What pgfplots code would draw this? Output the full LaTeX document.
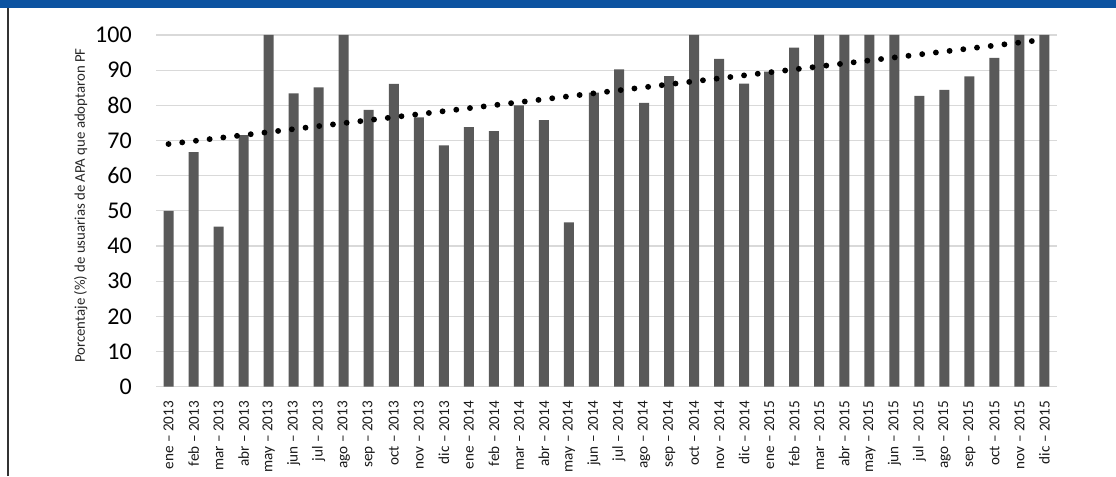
\documentclass[border=0pt]{standalone}
\usepackage{fontspec}
\setmainfont{Carlito}
\usepackage{pgfplots}
\pgfplotsset{compat=1.18}
\definecolor{headblue}{RGB}{12,83,161}
\definecolor{barcol}{RGB}{89,89,89}
\definecolor{gridcol}{RGB}{217,217,217}
\begin{document}
\begin{tikzpicture}
\useasboundingbox (0,0) rectangle (837pt,357pt);
\fill[headblue] (0,350.8pt) rectangle (837pt,357pt);
\draw[line width=1.1pt, black!80] (6pt,0) -- (6pt,350.8pt);
\begin{axis}[
  at={(117pt,66.98pt)}, anchor=south west,
  scale only axis, width=675.75pt, height=263.78pt,
  xmin=-0.5, xmax=35.5, ymin=0, ymax=100,
  ytick={0,10,...,100},
  xtick={0,...,35},
  xticklabels={ene – 2013,feb – 2013,mar – 2013,abr – 2013,may – 2013,jun – 2013,jul – 2013,ago – 2013,sep – 2013,oct – 2013,nov – 2013,dic – 2013,
               ene – 2014,feb – 2014,mar – 2014,abr – 2014,may – 2014,jun – 2014,jul – 2014,ago – 2014,sep – 2014,oct – 2014,nov – 2014,dic – 2014,
               ene – 2015,feb – 2015,mar – 2015,abr – 2015,may – 2015,jun – 2015,jul – 2015,ago – 2015,sep – 2015,oct – 2015,nov – 2015,dic – 2015},
  axis line style={draw=none},
  major tick length=0pt,
  ymajorgrids, grid style={color=gridcol, line width=0.8pt},
  /pgf/number format/assume math mode=true,
  y tick label style={font=\fontsize{18}{18}\selectfont, inner sep=0pt, anchor=east, xshift=-18pt, text=black},
  x tick label style={font=\fontsize{11.4}{12}\selectfont, rotate=90, anchor=east, inner sep=0pt, xshift=-10.5pt, text=black!90},
  ylabel={Porcentaje (\%) de usuarias de APA que adoptaron PF},
  ylabel style={font=\fontsize{11.1}{12}\selectfont, at={(axis description cs:-0.0836,0.515)}, anchor=center, text=black!85},
  clip=false,
]
\addplot[ybar, bar width=7.5pt, fill=barcol, draw=none] coordinates {
(0,50.0) (1,66.7) (2,45.5) (3,71.5) (4,100) (5,83.4) (6,85.1) (7,100) (8,78.7) (9,86.1) (10,76.6) (11,68.6)
(12,73.8) (13,72.7) (14,80.0) (15,75.8) (16,46.7) (17,83.6) (18,90.2) (19,80.7) (20,88.3) (21,100) (22,93.2) (23,86.2)
(24,89.6) (25,96.4) (26,100) (27,100) (28,100) (29,100) (30,82.7) (31,84.4) (32,88.2) (33,93.5) (34,100) (35,100)
};
\addplot[black, line width=4.4pt, line cap=round, dash pattern=on 0pt off 10.35pt] coordinates {(0,69.0) (35,98.7)};
\end{axis}
\end{tikzpicture}
\end{document}
